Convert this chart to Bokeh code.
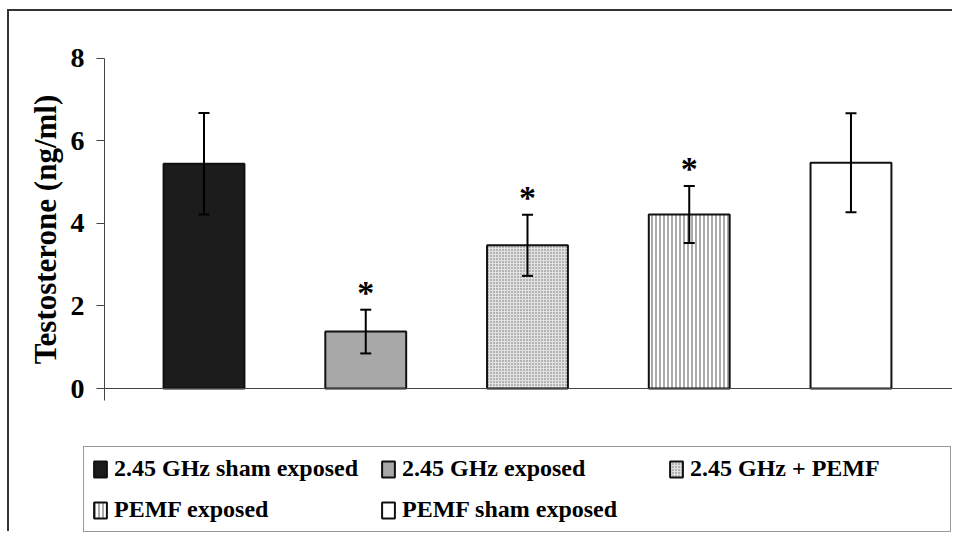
from bokeh.plotting import figure
from bokeh.models import (ColumnDataSource, Range1d, FixedTicker, Whisker, TeeHead,
                          Legend, LegendItem, CustomJSTickFormatter)
from bokeh.core.properties import value
from bokeh.embed import file_html
from bokeh.resources import INLINE

# ---- data ----
groups = ["2.45 GHz sham exposed", "2.45 GHz exposed", "2.45 GHz + PEMF",
          "PEMF exposed", "PEMF sham exposed"]
means = [5.45, 1.38, 3.47, 4.22, 5.47]
errors = [1.23, 0.53, 0.74, 0.69, 1.20]
significant = [False, True, True, True, False]
y_ticks = [0, 2, 4, 6, 8]
y_label = "Testosterone (ng/ml)"

# ---- styles / layout ----
FONT = "Liberation Serif"
fills = ["#1c1c1c", "#a8a8a8", "#e2e2e2", "white", "white"]
hatches = [None, None, "dot", "vertical_line", None]
hatch_colors = ["black", "black", "#6a6a6a", "#555555", "black"]
hatch_scales = [6, 6, 3, 4, 6]
X_AXIS_START = -0.615   # where the value axis crosses
X_AXIS_END = 4.63

xs = list(range(len(groups)))

p = figure(width=945, height=522,
           x_range=Range1d(-1.2025, 4.64), y_range=Range1d(-3.515, 9.139),
           output_backend="svg", toolbar_location=None,
           min_border=0, min_border_left=0, min_border_right=0,
           min_border_top=0, min_border_bottom=0,
           styles={"margin-left": "7px", "margin-top": "9px",
                   "border-top": "2px solid #333", "border-left": "2px solid #333"})
p.xgrid.visible = False
p.ygrid.visible = False
p.outline_line_color = None
p.background_fill_color = "white"
p.border_fill_color = "white"

items = []
for i, g in enumerate(groups):
    src = ColumnDataSource(dict(x=[xs[i]], top=[means[i]]))
    kw = {}
    if hatches[i] is not None:
        kw = dict(hatch_pattern=hatches[i], hatch_color=hatch_colors[i],
                  hatch_scale=hatch_scales[i], hatch_weight=1)
    r = p.vbar(x="x", top="top", width=0.5, bottom=0, source=src,
               fill_color=fills[i], line_color="#111111", line_width=2, **kw)
    items.append(LegendItem(label=g, renderers=[r]))

err_src = ColumnDataSource(dict(
    x=xs,
    upper=[m + e for m, e in zip(means, errors)],
    lower=[m - e for m, e in zip(means, errors)],
))
p.add_layout(Whisker(source=err_src, base="x", upper="upper", lower="lower",
                     line_color="black", line_width=2, level="annotation",
                     upper_head=TeeHead(size=11, line_width=2, line_color="black"),
                     lower_head=TeeHead(size=11, line_width=2, line_color="black")))

star_src = ColumnDataSource(dict(
    x=[xs[i] for i in range(len(groups)) if significant[i]],
    y=[means[i] + errors[i] for i in range(len(groups)) if significant[i]],
))
p.text(x="x", y="y", text=value("*"), source=star_src, text_align="center",
       text_baseline="alphabetic", y_offset=-17, text_font=value(FONT),
       text_font_style="bold", text_font_size="34px", text_color="black")

# y axis
ya = p.yaxis[0]
ya.fixed_location = X_AXIS_START
ya.ticker = FixedTicker(ticks=y_ticks)
ya.bounds = (min(y_ticks) - 0.3, max(y_ticks))
ya.axis_label = y_label
ya.axis_label_text_font = FONT
ya.axis_label_text_font_style = "bold"
ya.axis_label_text_font_size = "31px"
ya.axis_label_text_color = "black"
ya.axis_label_standoff = 5
ya.major_label_text_font = FONT
ya.major_label_text_font_style = "bold"
ya.major_label_text_font_size = "28px"
ya.major_label_text_color = "black"
ya.major_label_standoff = 12
ya.major_tick_in = 0
ya.major_tick_out = 8
ya.minor_tick_line_color = None
ya.axis_line_color = "#444444"
ya.major_tick_line_color = "#444444"

# x axis
xa = p.xaxis[0]
xa.fixed_location = 0
xa.ticker = FixedTicker(ticks=[X_AXIS_END])
xa.bounds = (X_AXIS_START, X_AXIS_END)
xa.formatter = CustomJSTickFormatter(code="return '';")
xa.major_tick_in = 0
xa.major_tick_out = 8
xa.minor_tick_line_color = None
xa.axis_line_color = "#444444"
xa.major_tick_line_color = "#444444"

legend = Legend(items=items, location=(74, 1), orientation="horizontal", ncols=3,
                label_text_font=FONT, label_text_font_style="bold",
                label_text_font_size="24px", label_text_color="black",
                glyph_width=16, glyph_height=20, label_standoff=6, label_width=252,
                spacing=14, padding=8, margin=0,
                border_line_color="#333333", border_line_width=1.5,
                background_fill_color="white", background_fill_alpha=1)
p.add_layout(legend, "center")

open("out.html", "w").write(file_html(p, INLINE))
